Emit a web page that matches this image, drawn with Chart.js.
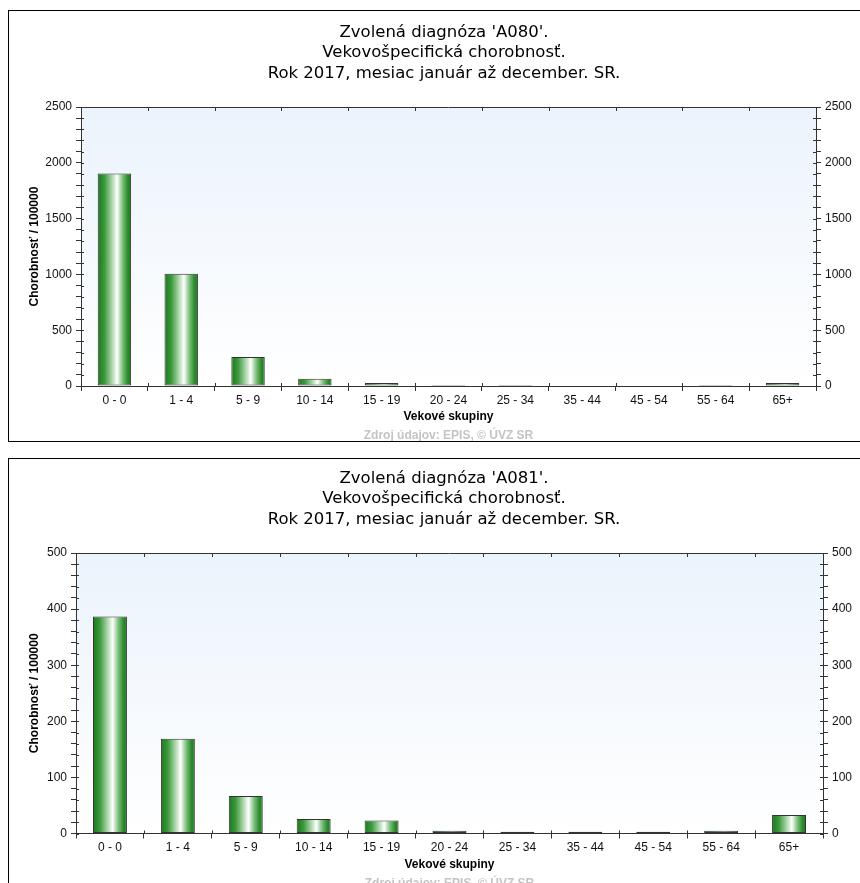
<!DOCTYPE html>
<html>
<head>
<meta charset="utf-8">
<title>Vekovošpecifická chorobnosť</title>
<script src="https://cdn.jsdelivr.net/npm/chart.js@4.4.1/dist/chart.umd.min.js"></script>
<style>
  body { margin: 0; background: #fff; width: 860px; height: 883px; overflow: hidden; position: relative; }
  .panel { position: absolute; left: 8px; width: 870px; height: 430px; border: 1px solid #000; background: #fff; }
  .panel canvas { display: block; }
</style>
</head>
<body>
<div class="panel" style="top:10px"><canvas id="chart-a080" width="870" height="430"></canvas></div>
<div class="panel" style="top:458px"><canvas id="chart-a081" width="870" height="430"></canvas></div>
<script>
const ageGroups = ['0 - 0', '1 - 4', '5 - 9', '10 - 14', '15 - 19', '20 - 24', '25 - 34', '35 - 44', '45 - 54', '55 - 64', '65+'];

// chorobnost / 100000
const ratesA080 = [1905, 1005, 260, 66, 27, 8, 8, 0, 0, 8, 27];
const ratesA081 = [387, 169, 67, 26, 23, 5, 3, 3, 3, 5, 33];

const yTicksA080 = [0, 500, 1000, 1500, 2000, 2500];
const yTicksA081 = [0, 100, 200, 300, 400, 500];

const titleA080 = ["Zvolená diagnóza 'A080'.", 'Vekovošpecifická chorobnosť.', 'Rok 2017, mesiac január až december. SR.'];
const titleA081 = ["Zvolená diagnóza 'A081'.", 'Vekovošpecifická chorobnosť.', 'Rok 2017, mesiac január až december. SR.'];

const xTitle = 'Vekové skupiny';
const yTitle = 'Chorobnosť / 100000';
const sourceNote = 'Zdroj údajov: EPIS, © ÚVZ SR';

const fontFamily = "'Liberation Sans', Arial, sans-serif";
const titleFamily = "'DejaVu Sans', Verdana, sans-serif";
const axisColor = '#333';

Chart.defaults.font.family = fontFamily;

// background of the plot, top frame line, inner tick marks and the source line
const plotFrame = {
    id: 'plotFrame',
    beforeDraw(chart) {
        const {ctx, chartArea: a} = chart;
        const g = ctx.createLinearGradient(0, a.top, 0, a.bottom);
        g.addColorStop(0, '#ebf3fc');
        g.addColorStop(1, '#ffffff');
        ctx.save();
        ctx.fillStyle = g;
        ctx.fillRect(a.left, a.top, a.right - a.left, a.bottom - a.top);
        ctx.restore();
    },
    afterDraw(chart) {
        const {ctx, chartArea: a} = chart;
        const xs = chart.scales.x;
        const ys = chart.scales.y;
        const n = xs.getLabels().length;
        ctx.save();
        ctx.strokeStyle = axisColor;
        ctx.lineWidth = 1;
        ctx.beginPath();
        ctx.moveTo(a.left, a.top + 0.5);
        ctx.lineTo(a.right, a.top + 0.5);
        for (let i = 0; i <= n; i++) {
            const px = Math.round(xs.left + i * xs.width / n) + 0.5;
            ctx.moveTo(px, a.top);
            ctx.lineTo(px, a.top + 4);
            ctx.moveTo(px, a.bottom);
            ctx.lineTo(px, a.bottom - 3);
        }
        ys.ticks.forEach(t => {
            const py = Math.round(ys.getPixelForValue(t.value)) + 0.5;
            ctx.moveTo(a.left, py);
            ctx.lineTo(a.left + 3, py);
            ctx.moveTo(a.right, py);
            ctx.lineTo(a.right - 3, py);
        });
        ctx.stroke();

        ctx.fillStyle = '#c4c4c4';
        ctx.font = 'bold 12px ' + fontFamily;
        ctx.textAlign = 'center';
        ctx.textBaseline = 'middle';
        ctx.fillText(chart.options.plugins.plotFrame.note, (a.left + a.right) / 2, chart.options.plugins.plotFrame.noteY);
        ctx.restore();
    }
};

function barFill(ctx) {
    if (ctx.type !== 'data') return '#2e8b2e';
    const chart = ctx.chart;
    const xs = chart.scales.x;
    if (!xs || !xs.width) return '#2e8b2e';
    const w = xs.width / ageGroups.length * 0.5;
    const cx = xs.getPixelForValue(ctx.dataIndex);
    const g = chart.ctx.createLinearGradient(cx - w / 2, 0, cx + w / 2, 0);
    g.addColorStop(0, '#1d781d');
    g.addColorStop(0.2, '#3b983b');
    g.addColorStop(0.45, '#b8dcb8');
    g.addColorStop(0.58, '#ffffff');
    g.addColorStop(0.74, '#80c280');
    g.addColorStop(0.9, '#2c8a2c');
    g.addColorStop(1, '#1d781d');
    return g;
}

function makeChart(id, titleLines, values, yTicks, layout) {
    const yMax = yTicks[yTicks.length - 1];
    const tickFont = {family: fontFamily, size: 12};
    const yAxis = (position, width) => ({
        position: position,
        min: 0,
        max: yMax,
        grid: {drawOnChartArea: false, tickLength: 5, color: axisColor},
        border: {color: axisColor},
        ticks: {
            stepSize: yMax / 25,
            autoSkip: false,
            padding: 4,
            color: '#111',
            font: tickFont,
            callback: v => yTicks.includes(v) ? String(v) : ''
        },
        afterFit: s => { s.width = width; }
    });

    const yLeft = yAxis('left', layout.left);
    yLeft.title = {
        display: true,
        text: yTitle,
        color: '#000',
        font: {family: fontFamily, size: 12, weight: 'bold'},
        padding: {top: 18, bottom: 0}
    };

    return new Chart(document.getElementById(id), {
        type: 'bar',
        data: {
            labels: ageGroups,
            datasets: [{
                data: values,
                backgroundColor: barFill,
                borderColor: '#333',
                borderWidth: 1,
                borderSkipped: false,
                categoryPercentage: 1,
                barPercentage: 0.5
            }]
        },
        options: {
            responsive: false,
            animation: false,
            layout: {padding: 0},
            plugins: {
                legend: {display: false},
                tooltip: {enabled: false},
                title: {
                    display: true,
                    text: titleLines,
                    color: '#000',
                    font: {family: titleFamily, size: 16.5, weight: 'normal', lineHeight: 1.22},
                    padding: {top: layout.titleTop, bottom: 96 - 2 - layout.titleTop - 3 * 16.5 * 1.22 + layout.shift}
                },
                plotFrame: {note: sourceNote, noteY: 425}
            },
            scales: {
                x: {
                    offset: true,
                    grid: {offset: true, drawOnChartArea: false, tickLength: 5, color: axisColor},
                    border: {color: axisColor},
                    ticks: {autoSkip: false, maxRotation: 0, padding: 2, color: '#111', font: tickFont},
                    title: {
                        display: true,
                        text: xTitle,
                        color: '#000',
                        font: {family: fontFamily, size: 12, weight: 'bold'},
                        padding: {top: 0, bottom: 17}
                    },
                    afterFit: s => { s.height = layout.bottom; }
                },
                y: yLeft,
                y2: yAxis('right', layout.right)
            }
        },
        plugins: [plotFrame]
    });
}

makeChart('chart-a080', titleA080, ratesA080, yTicksA080, {left: 72, right: 63, bottom: 55, titleTop: 12, shift: 2});
makeChart('chart-a081', titleA081, ratesA081, yTicksA081, {left: 67, right: 56, bottom: 55.5, titleTop: 10, shift: 0});
</script>
</body>
</html>
